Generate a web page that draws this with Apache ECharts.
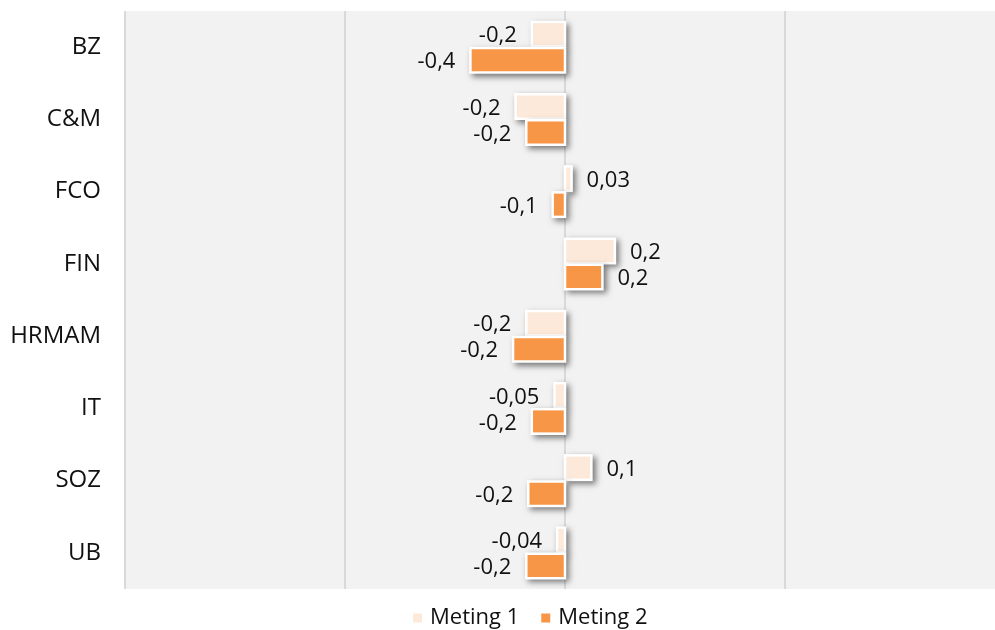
<!DOCTYPE html>
<html>
<head>
<meta charset="utf-8">
<title>Meting 1 / Meting 2</title>
<script src="https://cdn.jsdelivr.net/npm/echarts@6/dist/echarts.min.js"></script>
<style>
  html, body { margin: 0; padding: 0; background: #ffffff; overflow: hidden; }
  #chart { width: 1010px; height: 630px; }
</style>
</head>
<body>
<div id="chart"></div>
<script>
// Departments, top to bottom
const categories = ['BZ', 'C&M', 'FCO', 'FIN', 'HRMAM', 'IT', 'SOZ', 'UB'];

// Change per department for each measurement
const meting1 = [-0.151, -0.225, 0.03, 0.227, -0.176, -0.048, 0.12, -0.036];
const meting2 = [-0.43, -0.176, -0.056, 0.17, -0.236, -0.151, -0.167, -0.176];

const seriesNames = ['Meting 1', 'Meting 2'];
const seriesColors = ['#fde9d9', '#f79646'];

// Value axis range and step
const axisMin = -2;
const axisMax = 2;
const axisStep = 1;

const FONT = '"Open Sans", "Noto Sans", sans-serif';

// Bar geometry (px): white frame around a coloured core, dropped shadow
const OUTER = 27;      // frame thickness across the bar
const FRAME = 2.5;     // white frame width
const SHIFT = 13;      // offset of each bar from the band centre
const LABEL_GAP = 15;

// Small values keep two decimals, the rest one; Dutch decimal comma
function formatValue(v) {
  const a = Math.abs(v);
  const txt = a < 0.05 ? (Math.round(a * 100 + 1e-9) / 100).toFixed(2)
                       : (Math.round(a * 10 + 1e-9) / 10).toFixed(1);
  return (v < 0 ? '-' : '') + txt.replace('.', ',');
}

function makeRenderer(seriesIdx, color) {
  return function (params, api) {
    const v = api.value(0);
    const cat = api.value(1);
    const zero = api.coord([0, cat]);
    const end = api.coord([v, cat]);
    const cy = zero[1] + (seriesIdx === 0 ? -SHIFT : SHIFT);
    const x0 = Math.min(zero[0], end[0]);
    const x1 = Math.max(zero[0], end[0]);
    const half = FRAME / 2;
    const neg = v < 0;
    return {
      type: 'group',
      children: [
        {
          type: 'rect',
          shape: { x: x0 - half, y: cy - OUTER / 2, width: (x1 - x0) + FRAME, height: OUTER },
          style: {
            fill: '#ffffff',
            shadowColor: 'rgba(0,0,0,0.5)',
            shadowBlur: 6,
            shadowOffsetX: 3,
            shadowOffsetY: 3
          }
        },
        {
          type: 'rect',
          shape: {
            x: x0 + half,
            y: cy - OUTER / 2 + FRAME,
            width: Math.max((x1 - x0) - FRAME, 0.5),
            height: OUTER - 2 * FRAME
          },
          style: { fill: color }
        },
        {
          type: 'text',
          x: neg ? x0 - LABEL_GAP : x1 + LABEL_GAP,
          y: cy + 2,
          style: {
            text: formatValue(v),
            fill: '#111111',
            font: '22px ' + FONT,
            align: neg ? 'right' : 'left',
            verticalAlign: 'middle'
          }
        }
      ]
    };
  };
}

function customSeries(i, values) {
  return {
    name: seriesNames[i],
    type: 'custom',
    renderItem: makeRenderer(i, seriesColors[i]),
    itemStyle: { color: seriesColors[i] },
    encode: { x: 0, y: 1 },
    data: values.map(function (v, k) { return [v, categories[k]]; })
  };
}

const chart = echarts.init(document.getElementById('chart'), null, { renderer: 'canvas' });

chart.setOption({
  animation: false,
  backgroundColor: '#ffffff',
  grid: {
    left: 125,
    top: 11,
    width: 880,
    height: 578,
    show: true,
    backgroundColor: '#f2f2f2',
    borderWidth: 0
  },
  legend: {
    data: seriesNames,
    left: 408,
    top: 602,
    icon: 'rect',
    itemWidth: 9,
    itemHeight: 9,
    itemGap: 22,
    textStyle: {
      fontFamily: FONT,
      fontSize: 22,
      color: '#111111',
      padding: [0, 0, 0, 3]
    }
  },
  xAxis: {
    type: 'value',
    min: axisMin,
    max: axisMax,
    interval: axisStep,
    axisLine: { show: false },
    axisTick: { show: false },
    axisLabel: { show: false },
    splitLine: { show: true, lineStyle: { color: '#d9d9d9', width: 2 } }
  },
  yAxis: {
    type: 'category',
    data: categories,
    inverse: true,
    axisLine: { show: false },
    axisTick: { show: false },
    splitLine: { show: false },
    axisLabel: {
      margin: 24,
      color: '#111111',
      fontFamily: FONT,
      fontSize: 24
    }
  },
  series: [customSeries(0, meting1), customSeries(1, meting2)]
});
</script>
</body>
</html>
